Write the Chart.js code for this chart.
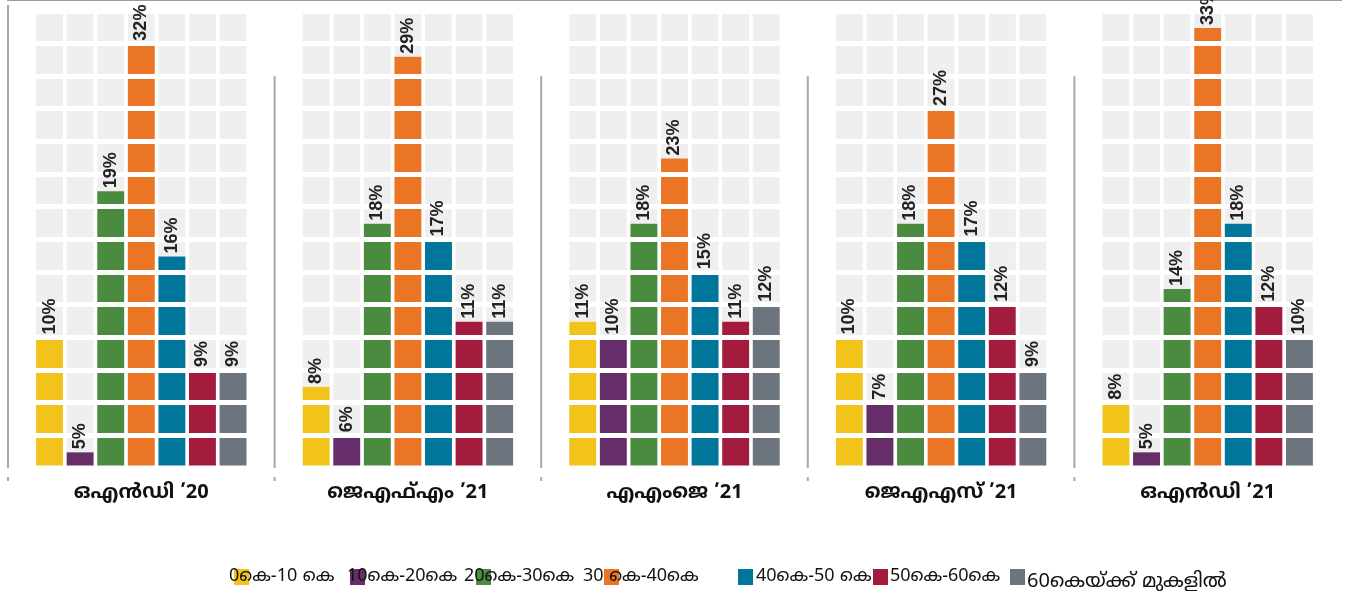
<!DOCTYPE html>
<html>
<head>
<meta charset="utf-8">
<script src="https://cdn.jsdelivr.net/npm/chart.js@4.4.1/dist/chart.umd.min.js"></script>
<style>
  html, body { margin: 0; padding: 0; background: #fff; }
  #wrap { position: relative; width: 1352px; height: 591px; overflow: hidden; }
  #chart { position: absolute; left: 0; top: 0; }
  .sq { position: absolute; width: 15px; height: 16px; }
  .lt { position: absolute; font-family: "Noto Sans Malayalam", "Noto Sans", "DejaVu Sans", sans-serif;
        font-size: 18px; color: #111; white-space: nowrap; line-height: 20px; }
</style>
</head>
<body>
<div id="wrap">
  <canvas id="chart" width="1352" height="591"></canvas>
  <div id="legend"></div>
</div>
<script>
const quarters = ['ഒഎൻഡി ’20', 'ജെഎഫ്എം ’21', 'എഎംജെ ’21', 'ജെഎഎസ് ’21', 'ഒഎൻഡി ’21'];
const bands = ['0കെ-10 കെ', '10കെ-20കെ', '20കെ-30കെ', '30 കെ-40കെ', '40കെ-50 കെ', '50കെ-60കെ', '60കെയ്ക്ക് മുകളിൽ'];

// percentages printed over the bars
const share0to10  = [10, 8, 11, 10, 8];
const share10to20 = [5, 6, 10, 7, 5];
const share20to30 = [19, 18, 18, 18, 14];
const share30to40 = [32, 29, 23, 27, 33];
const share40to50 = [16, 17, 15, 17, 18];
const share50to60 = [9, 11, 11, 12, 12];
const share60plus = [9, 11, 12, 9, 10];

// bar heights as they are drawn in the source (not quite to scale with the labels)
const height0to10  = [10, 6.2, 11.2, 10, 5];
const height10to20 = [1.2, 2.5, 10, 5, 1.2];
const height20to30 = [21.2, 18.7, 18.7, 18.7, 13.7];
const height30to40 = [32.5, 31.5, 23.7, 27.5, 33.7];
const height40to50 = [16.2, 17.5, 15, 17.5, 18.7];
const height50to60 = [7.5, 11.2, 11.2, 12.5, 12.5];
const height60plus = [7.5, 11.2, 12.5, 7.5, 10];

const shares = [share0to10, share10to20, share20to30, share30to40, share40to50, share50to60, share60plus];
const heights = [height0to10, height10to20, height20to30, height30to40, height40to50, height50to60, height60plus];
const bandColors = ['#f2c41b', '#652d69', '#4b8b40', '#e97525', '#00769b', '#a31c3e', '#6c757e'];

const cellStep = 2.5;   // one grey cell
const scaleTop = 35;    // 14 cells
const sepTop = 30;      // where the group separators start

const barOpts = { barPercentage: 0.88, categoryPercentage: 0.803, borderWidth: 0 };

// each band: coloured bar, then the empty grey cells stacked on top of it
const datasets = [];
bands.forEach((b, i) => {
  datasets.push(Object.assign({
    label: b,
    data: heights[i],
    shares: shares[i],
    backgroundColor: bandColors[i],
    stack: 'band' + i
  }, barOpts));
  datasets.push(Object.assign({
    label: '',
    data: heights[i].map(h => scaleTop - h),
    backgroundColor: '#efefef',
    stack: 'band' + i
  }, barOpts));
});

const barLabels = {
  id: 'barLabels',
  afterDraw(chart) {
    const ctx = chart.ctx;
    ctx.save();
    ctx.font = 'bold 18px "Liberation Sans", Arial, sans-serif';
    ctx.fillStyle = '#222';
    ctx.textAlign = 'left';
    ctx.textBaseline = 'middle';
    chart.data.datasets.forEach((ds, di) => {
      if (!ds.shares) return;
      chart.getDatasetMeta(di).data.forEach((bar, j) => {
        ctx.save();
        ctx.translate(bar.x, bar.y - 3);
        ctx.rotate(-Math.PI / 2);
        ctx.fillText(ds.shares[j] + '%', 0, 0);
        ctx.restore();
      });
    });
    ctx.restore();
  }
};

const separators = {
  id: 'separators',
  afterDraw(chart) {
    const ctx = chart.ctx;
    const xs = chart.scales.x, ys = chart.scales.y;
    const bottom = chart.chartArea.bottom;
    const half = (xs.getPixelForValue(1) - xs.getPixelForValue(0)) / 2;
    ctx.save();
    ctx.strokeStyle = '#a8a8a8';
    ctx.lineWidth = 2;
    quarters.forEach((q, i) => {
      const x = xs.getPixelForValue(i) - half;
      const top = i === 0 ? chart.chartArea.top - 6 : ys.getPixelForValue(sepTop);
      ctx.beginPath();
      ctx.moveTo(x, top);
      ctx.lineTo(x, bottom);
      ctx.stroke();
      // little tick under the axis
      ctx.beginPath();
      ctx.moveTo(x, bottom + 9);
      ctx.lineTo(x, bottom + 13);
      ctx.stroke();
    });
    ctx.restore();
  }
};

new Chart(document.getElementById('chart'), {
  type: 'bar',
  data: { labels: quarters, datasets: datasets },
  options: {
    responsive: false,
    animation: false,
    devicePixelRatio: 1,
    layout: { padding: { left: 8, right: 11, top: 11, bottom: 79 } },
    plugins: { legend: { display: false }, tooltip: { enabled: false } },
    scales: {
      x: {
        stacked: true,
        offset: true,
        grid: { display: false, z: 2 },
        border: { color: '#9c9c9c', width: 2 },
        ticks: {
          color: '#111',
          padding: 6,
          font: { family: '"Noto Sans Malayalam", "Noto Sans", "DejaVu Sans", sans-serif', size: 20, weight: 'bold' }
        }
      },
      y: {
        stacked: true,
        min: 0,
        max: scaleTop,
        ticks: { display: false, stepSize: cellStep },
        grid: { color: '#ffffff', lineWidth: 5, z: 1, drawTicks: false },
        border: { display: false }
      }
    }
  },
  plugins: [barLabels, separators]
});

// legend, laid out loosely like the source
const legendSquareX = [234, 350, 476, 604, 738, 873, 1010];
const legendTextX = [229, 347, 464, 583, 756, 890, 1027];
const legendTextY = [567, 567, 567, 567, 567, 567, 573];
const legend = document.getElementById('legend');
bands.forEach((b, i) => {
  const sq = document.createElement('div');
  sq.className = 'sq';
  sq.style.left = legendSquareX[i] + 'px';
  sq.style.top = '569px';
  sq.style.background = bandColors[i];
  legend.appendChild(sq);
  const t = document.createElement('div');
  t.className = 'lt';
  t.style.left = legendTextX[i] + 'px';
  t.style.top = legendTextY[i] + 'px';
  if (i === 6) t.style.fontSize = '20px';
  t.textContent = b;
  legend.appendChild(t);
});
</script>
</body>
</html>
